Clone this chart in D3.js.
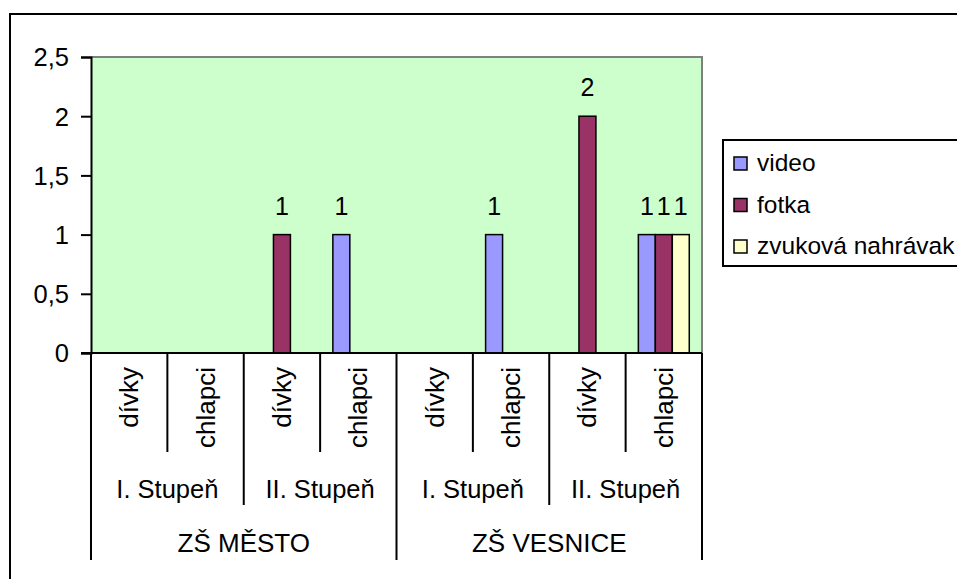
<!DOCTYPE html>
<html>
<head>
<meta charset="utf-8">
<script src="https://cdn.jsdelivr.net/npm/d3@7"></script>
<style>
  html, body { margin: 0; padding: 0; background: #fff; }
  svg { display: block; }
  text { font-family: "Liberation Sans", Arial, sans-serif; fill: #000; }
</style>
</head>
<body>
<svg id="chart" width="957" height="579"></svg>
<script>
// ---- data ----
const schools = ["ZŠ MĚSTO", "ZŠ VESNICE"];
const levels = ["I. Stupeň", "II. Stupeň"];
const genders = ["dívky", "chlapci"];
const seriesNames = ["video", "fotka", "zvuková nahrávak"];
const video = [null, null, null, 1, null, 1, null, 1];
const fotka = [null, null, 1, null, null, null, 2, 1];
const zvuk  = [null, null, null, null, null, null, null, 1];
const yTicks = [0, 0.5, 1, 1.5, 2, 2.5];
const colors = ["#9999FF", "#993366", "#FFFFCC"];

// ---- build categories ----
const leaves = [];
schools.forEach((s, si) => levels.forEach((l, li) => genders.forEach((g, gi) => {
  leaves.push({ id: si + "|" + li + "|" + gi, school: s, level: l, gender: g });
})));
const seriesData = [video, fotka, zvuk];

const svg = d3.select("#chart");
const FS = 25.5;

// outer border
svg.append("rect").attr("x", 10).attr("y", 14).attr("width", 980).attr("height", 600)
  .attr("fill", "#fff").attr("stroke", "#000").attr("stroke-width", 2);

const plot = { left: 91, right: 702, top: 57, bottom: 353 };

const x0 = d3.scaleBand().domain(leaves.map(d => d.id)).range([plot.left, plot.right]).padding(0);
const groupW = x0.bandwidth() * 3 / 4.5;
const x1 = d3.scaleBand().domain(d3.range(3)).range([0, groupW]).padding(0);
const y = d3.scaleLinear().domain([0, 2.5]).range([plot.bottom, plot.top]);

// plot background
svg.append("rect").attr("x", plot.left).attr("y", plot.top)
  .attr("width", plot.right - plot.left).attr("height", plot.bottom - plot.top)
  .attr("fill", "#CCFFCC");
// gray top and right border
svg.append("path")
  .attr("d", `M${plot.left},${plot.top}H${plot.right}V${plot.bottom}`)
  .attr("fill", "none").attr("stroke", "#808080").attr("stroke-width", 2);

// bars
leaves.forEach((leaf, i) => {
  const gx = x0(leaf.id) + (x0.bandwidth() - groupW) / 2;
  seriesData.forEach((arr, si) => {
    const v = arr[i];
    if (v == null) return;
    svg.append("rect")
      .attr("x", gx + x1(si)).attr("y", y(v))
      .attr("width", x1.bandwidth()).attr("height", y(0) - y(v))
      .attr("fill", colors[si]).attr("stroke", "#000").attr("stroke-width", 1.5);
    svg.append("text")
      .attr("x", gx + x1(si) + x1.bandwidth() / 2).attr("y", y(v) - 20)
      .attr("text-anchor", "middle").attr("font-size", 25).text(v);
  });
});

// y axis
const yAxis = d3.axisLeft(y).tickValues(yTicks).tickSize(10).tickPadding(12)
  .tickFormat(d => String(d).replace(".", ","));
const ya = svg.append("g").attr("transform", `translate(${plot.left},0)`).call(yAxis);
ya.select(".domain").attr("stroke", "#000").attr("stroke-width", 2);
ya.selectAll(".tick line").attr("stroke", "#000").attr("stroke-width", 2);
ya.selectAll(".tick text").attr("font-size", FS).attr("font-family", "Liberation Sans, Arial, sans-serif")
  .attr("dy", "0.35em");

// category axis
const cat = svg.append("g");
cat.append("line").attr("x1", 81).attr("x2", plot.right).attr("y1", plot.bottom).attr("y2", plot.bottom)
  .attr("stroke", "#000").attr("stroke-width", 2);

const leafBottom = 452, levelBottom = 505, schoolBottom = 560;
const n = leaves.length;
for (let i = 0; i <= n; i++) {
  const xb = i < n ? x0(leaves[i].id) : x0(leaves[n - 1].id) + x0.bandwidth();
  let yb = leafBottom;
  if (i % 2 === 0) yb = levelBottom;
  if (i % 4 === 0) yb = schoolBottom;
  cat.append("line").attr("x1", xb).attr("x2", xb).attr("y1", plot.bottom).attr("y2", yb)
    .attr("stroke", "#000").attr("stroke-width", 2);
}
// leaf labels
leaves.forEach(leaf => {
  const cx = x0(leaf.id) + x0.bandwidth() / 2;
  cat.append("text")
    .attr("transform", `translate(${cx + 9},367) rotate(-90)`)
    .attr("text-anchor", "end").attr("font-size", 26).text(leaf.gender);
});
// level labels
schools.forEach((s, si) => levels.forEach((l, li) => {
  const a = leaves.find(d => d.school === s && d.level === l && d.gender === genders[0]);
  const b = leaves.find(d => d.school === s && d.level === l && d.gender === genders[genders.length - 1]);
  const cx = (x0(a.id) + x0(b.id) + x0.bandwidth()) / 2;
  cat.append("text").attr("x", cx).attr("y", 498).attr("text-anchor", "middle")
    .attr("font-size", FS).text(l);
}));
// school labels
schools.forEach(s => {
  const ls = leaves.filter(d => d.school === s);
  const cx = (x0(ls[0].id) + x0(ls[ls.length - 1].id) + x0.bandwidth()) / 2;
  cat.append("text").attr("x", cx).attr("y", 552).attr("text-anchor", "middle")
    .attr("font-size", 26).text(s);
});

// legend
const lg = svg.append("g");
lg.append("rect").attr("x", 723).attr("y", 140).attr("width", 260).attr("height", 126)
  .attr("fill", "#fff").attr("stroke", "#000").attr("stroke-width", 2);
seriesNames.forEach((name, i) => {
  const base = 171 + i * 41.5;
  lg.append("rect").attr("x", 734).attr("y", base - 14).attr("width", 13).attr("height", 13)
    .attr("fill", colors[i]).attr("stroke", "#000").attr("stroke-width", 1.5);
  lg.append("text").attr("x", 757).attr("y", base).attr("font-size", 24.5).text(name);
});
</script>
</body>
</html>
